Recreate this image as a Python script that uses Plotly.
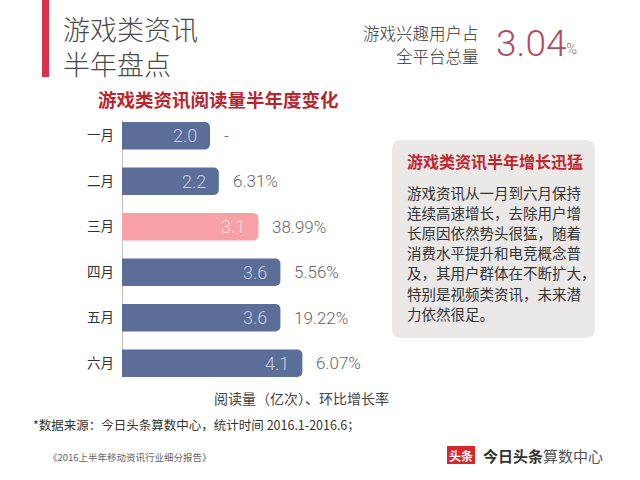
import plotly.graph_objects as go

months = ["一月", "二月", "三月", "四月", "五月", "六月"]
reads = [2.0, 2.2, 3.1, 3.6, 3.6, 4.1]
growth = ["-", "6.31%", "38.99%", "5.56%", "19.22%", "6.07%"]
highlight = "三月"

box_title = "游戏类资讯半年增长迅猛"
box_lines = [
    "游戏资讯从一月到六月保持",
    "连续高速增长，去除用户增",
    "长原因依然势头很猛，随着",
    "消费水平提升和电竞概念普",
    "及，其用户群体在不断扩大，",
    "特别是视频类资讯，未来潜",
    "力依然很足。",
]

CJK = "Noto Sans CJK SC"
NUM = "Roboto"
BLUE = "#5a6e98"
PINK = "#f7a0a6"
RED = "#b8262e"

colors = [PINK if m == highlight else BLUE for m in months]
txtcolors = ["#fcd6d9" if m == highlight else "#c5cee2" for m in months]

fig = go.Figure()
fig.add_trace(go.Bar(
    x=reads, y=months, orientation="h",
    marker=dict(color=colors, cornerradius=5, line=dict(width=0)),
    width=0.6, hoverinfo="skip",
))

ann = []
for m, v, g, tc in zip(months, reads, growth, txtcolors):
    ann.append(dict(x=v, y=m, xref="x", yref="y", text=f"{v:.1f}", showarrow=False,
                    xanchor="right", xshift=-11,
                    font=dict(family=NUM, size=18, color=tc, weight=300)))
    ann.append(dict(x=v, y=m, xref="x", yref="y", text=g, showarrow=False,
                    xanchor="left", xshift=12,
                    font=dict(family=NUM, size=17, color="#666666", weight=300)))

ML, MR, MT, MB = 122, 254, 113, 94
PW, PH = 640 - ML - MR, 480 - MT - MB

def P(x, y):
    return (x - ML) / PW, 1 - (y - MT) / PH

def A(x, y, text, size, color, anchor="left", weight=300, family=CJK, yanchor="middle", align="left"):
    xx, yy = P(x, y)
    return dict(x=xx, y=yy, xref="paper", yref="paper", text=text,
                showarrow=False, xanchor=anchor, yanchor=yanchor, align=align,
                font=dict(family=family, size=size, color=color, weight=weight))

ann.append(A(61, 46, "游戏类资讯<br>半年盘点", 27, "#4a4a4a"))
ann.append(A(96, 99, "游戏类资讯阅读量半年度变化", 18.5, RED, weight=700))
ann.append(A(481, 33, "游戏兴趣用户占", 16.5, "#333333", anchor="right"))
ann.append(A(481, 56, "全平台总量", 16.5, "#333333", anchor="right"))
ann.append(A(494, 43, "3.04", 37, "#b34a5e", family=NUM, weight=300))
ann.append(A(564, 49, "%", 15, "#777777", family=NUM, weight=300))
ann.append(A(405, 161, box_title, 16, "#c0272d", weight=700))
for i, line in enumerate(box_lines):
    ann.append(A(405, 192 + i * 20.2, line, 14.5, "#333333", weight=400))
ann.append(A(212, 398, "阅读量（亿次）、环比增长率", 14, "#444444", weight=400))
ann.append(A(31, 424, "*数据来源：今日头条算数中心，统计时间 2016.1-2016.6；", 12.5, "#333333", weight=400))
ann.append(A(46, 457, "《2016上半年移动资讯行业细分报告》", 9.5, "#666666", weight=400))
ann.append(A(461, 455, "头条", 12, "#ffffff", anchor="center", weight=700))
ann.append(A(481, 455, "<b>今日头条</b><span style='color:#555555'>算数中心</span>", 15, "#333333", weight=400))

def rrect(x0, y0, x1, y1, r):
    a0, b0 = P(x0, y0)
    a1, b1 = P(x1, y1)
    rx, ry = r / PW, r / PH
    return (f"M {a0+rx},{b0} L {a1-rx},{b0} Q {a1},{b0} {a1},{b0-ry} "
            f"L {a1},{b1+ry} Q {a1},{b1} {a1-rx},{b1} L {a0+rx},{b1} "
            f"Q {a0},{b1} {a0},{b1+ry} L {a0},{b0-ry} Q {a0},{b0} {a0+rx},{b0} Z")

shapes = []
x0, y0 = P(42, 0); x1, y1 = P(49, 77)
shapes.append(dict(type="rect", xref="paper", yref="paper", x0=x0, y0=y0, x1=x1, y1=y1,
                   fillcolor="#d8314b", line=dict(width=0), layer="below"))
shapes.append(dict(type="path", xref="paper", yref="paper", path=rrect(392, 140, 595, 338, 9),
                   fillcolor="#ebe8e8", line=dict(width=0), layer="below"))
x0, y0 = P(447, 446); x1, y1 = P(475, 464)
shapes.append(dict(type="rect", xref="paper", yref="paper", x0=x0, y0=y0, x1=x1, y1=y1,
                   fillcolor="#d7262d", line=dict(width=0), layer="below"))
shapes.append(dict(type="line", xref="x", yref="y domain", x0=0, x1=0, y0=0.03, y1=0.975,
                   line=dict(color="#c9c2bb", width=2), layer="below"))

fig.update_layout(
    width=640, height=480,
    margin=dict(l=ML, r=MR, t=MT, b=MB, pad=0),
    paper_bgcolor="white", plot_bgcolor="white",
    showlegend=False, bargap=0.4,
    xaxis=dict(range=[0, PW / 44], visible=False, fixedrange=True),
    yaxis=dict(autorange="reversed", showgrid=False, zeroline=False, showline=False,
               ticks="", ticklabelstandoff=7,
               tickfont=dict(family=CJK, size=13.5, color="#333333")),
    annotations=ann, shapes=shapes,
)

fig.write_html("out.html")
